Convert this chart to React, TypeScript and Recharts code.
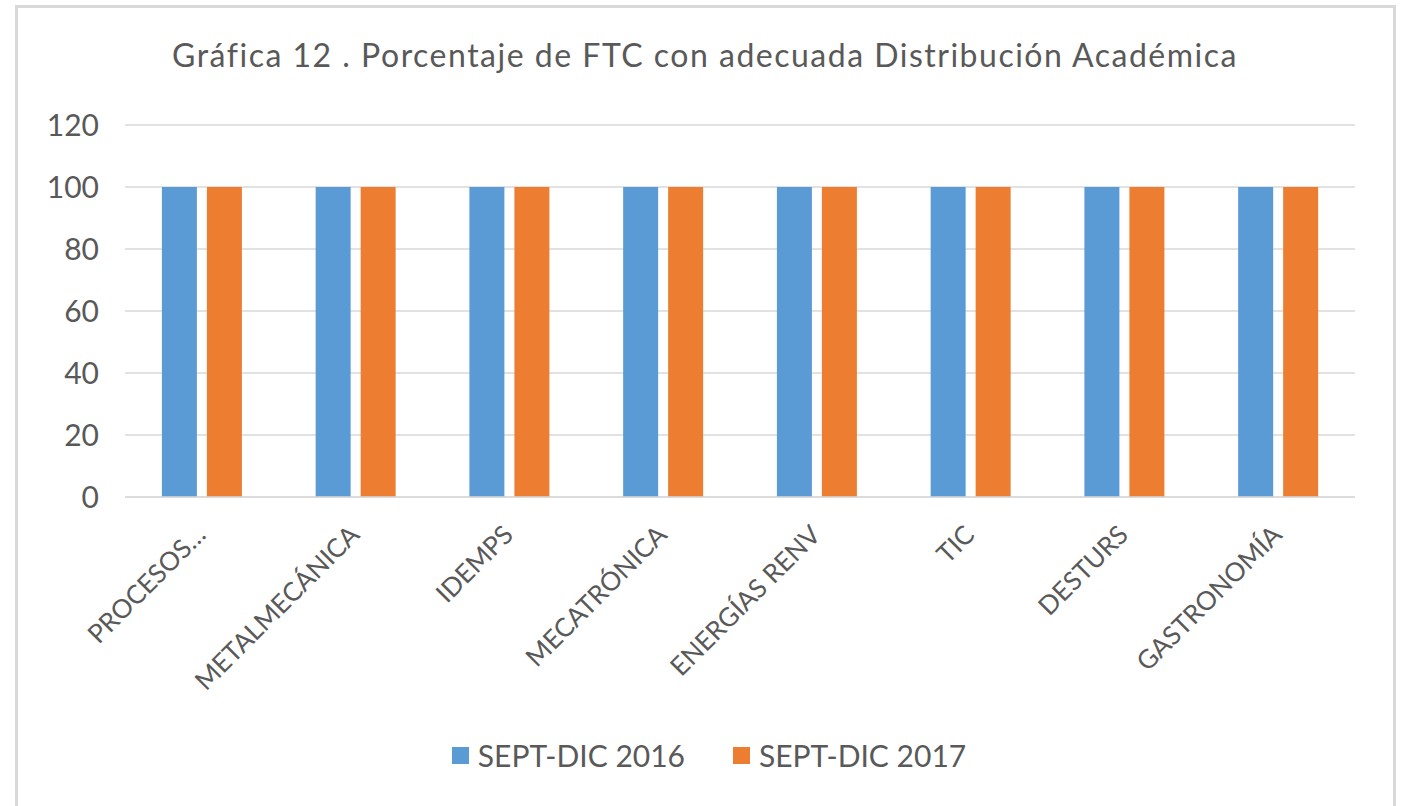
import React from 'react';
import { BarChart, Bar, XAxis, YAxis, CartesianGrid, Legend } from 'recharts';

const categories = ['PROCESOS…', 'METALMECÁNICA', 'IDEMPS', 'MECATRÓNICA', 'ENERGÍAS RENV', 'TIC', 'DESTURS', 'GASTRONOMÍA'];
const sept2016 = [100, 100, 100, 100, 100, 100, 100, 100];
const sept2017 = [100, 100, 100, 100, 100, 100, 100, 100];
const yTicks = [0, 20, 40, 60, 80, 100, 120];
const seriesNames = ['SEPT-DIC 2016', 'SEPT-DIC 2017'];
const title = 'Gráfica 12 . Porcentaje de FTC con adecuada Distribución Académica';

const data = categories.map((c, i) => ({ name: c, a: sept2016[i], b: sept2017[i] }));

const BLUE = '#5B9BD5';
const ORANGE = '#ED7D31';
const TEXT = '#595959';
const GRID = '#D9D9D9';
const FONT = 'Lato, "Open Sans", sans-serif';

const XTick = (props: any) => {
  const { x, y, payload } = props;
  return (
    <g transform={`translate(${x - 1},${y + 25})`}>
      <text x={0} y={0} dy="0.35em" textAnchor="end" transform="rotate(-45)" fill={TEXT} fontSize={26} fontFamily={FONT}>
        {payload.value}
      </text>
    </g>
  );
};

const YTick = (props: any) => {
  const { x, y, payload } = props;
  return (
    <text x={x} y={y} dy="0.36em" textAnchor="end" fill={TEXT} fontSize={30} fontFamily={FONT}>
      {payload.value}
    </text>
  );
};

const LegendContent = () => {
  const colors = [BLUE, ORANGE];
  return (
    <div style={{ display: 'flex', justifyContent: 'center', alignItems: 'center', fontFamily: FONT, fontSize: 30, color: TEXT, paddingLeft: 14 }}>
      {seriesNames.map((n, i) => (
        <div key={n} style={{ display: 'flex', alignItems: 'center', marginRight: i === 0 ? 48 : 0 }}>
          <div style={{ width: 17, height: 17, background: colors[i], marginRight: 9 }} />
          <span>{n}</span>
        </div>
      ))}
    </div>
  );
};

export default function App() {
  return (
    <div style={{ position: 'absolute', left: 0, top: 0, width: 1404, height: 806, background: '#fff', overflow: 'hidden' }}>
      <div style={{ position: 'absolute', left: 15, top: 5, width: 1381, height: 830, border: `3px solid ${GRID}`, boxSizing: 'border-box' }} />
      <svg style={{ position: 'absolute', left: 0, top: 0 }} width={1404} height={100}>
        <text x={705} y={67} textAnchor="middle" fill={TEXT} fontSize={32} letterSpacing={1.5} fontFamily={FONT}>{title}</text>
      </svg>
      <div style={{ position: 'absolute', left: 0, top: 0 }}>
        <BarChart width={1404} height={806} data={data} margin={{ top: 125, right: 49, left: 25, bottom: 59 }} barCategoryGap="24%" barGap={10}>
          <CartesianGrid vertical={false} stroke={GRID} strokeWidth={1.5} />
          <XAxis dataKey="name" height={250} axisLine={{ stroke: GRID, strokeWidth: 1.5 }} tickLine={false} interval={0} tick={<XTick />} />
          <YAxis width={100} domain={[0, 120]} ticks={yTicks} axisLine={false} tickLine={false} tick={<YTick />} tickMargin={20} />
          <Legend layout="horizontal" verticalAlign="middle" align="center" wrapperStyle={{ top: 737, left: 0, width: 1404 }} content={<LegendContent />} />
          <Bar dataKey="a" name={seriesNames[0]} fill={BLUE} isAnimationActive={false} />
          <Bar dataKey="b" name={seriesNames[1]} fill={ORANGE} isAnimationActive={false} />
        </BarChart>
      </div>
    </div>
  );
}
